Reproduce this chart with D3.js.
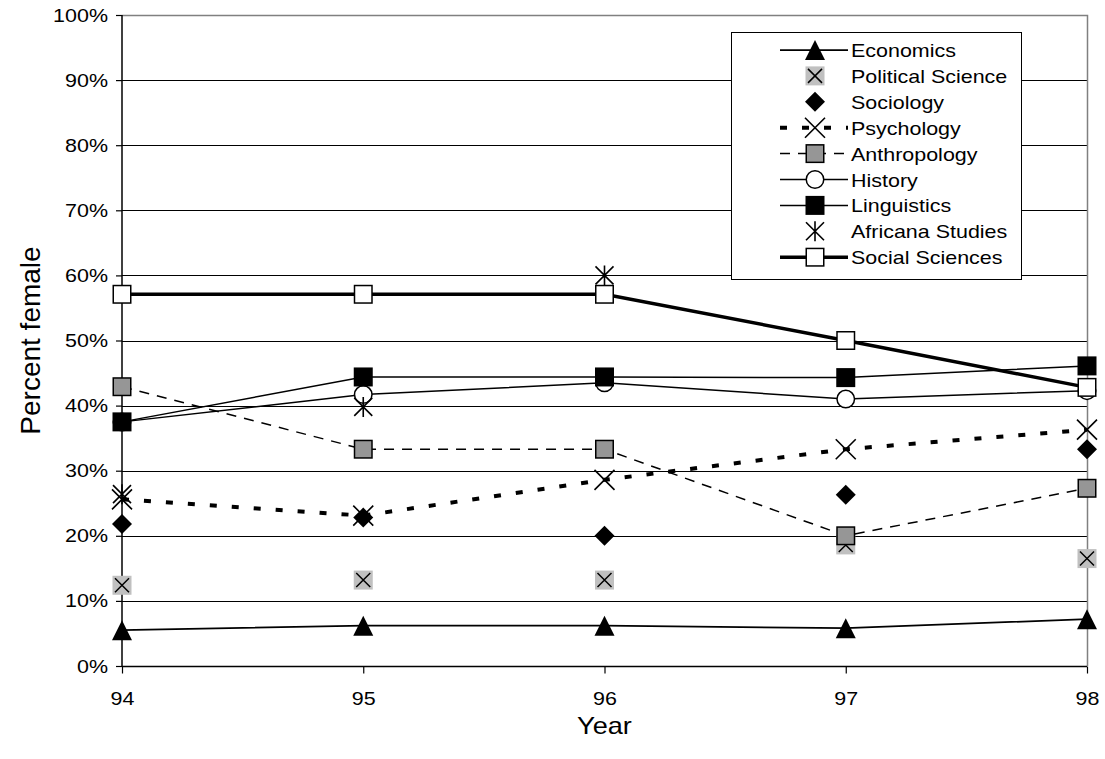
<!DOCTYPE html>
<html>
<head>
<meta charset="utf-8">
<script src="https://cdn.jsdelivr.net/npm/d3@7"></script>
<style>
  html, body { margin: 0; padding: 0; background: #fff; }
  svg { display: block; font-family: "Liberation Sans", Arial, sans-serif; }
</style>
</head>
<body>
<svg id="chart" width="1105" height="759"></svg>
<script>
// Share of female students by department, academic years 94–98 (percent)
const years = ["94", "95", "96", "97", "98"];
const yTicks = [0, 10, 20, 30, 40, 50, 60, 70, 80, 90, 100];

const economics        = [5.5, 6.2, 6.2, 5.8, 7.2];
const politicalScience = [12.4, 13.2, 13.2, 18.6, 16.5];
const sociology        = [21.8, 22.8, 20.0, 26.3, 33.3];
const psychology       = [25.6, 23.1, 28.6, 33.3, 36.3];
const anthropology     = [42.9, 33.3, 33.3, 20.0, 27.3];
const history          = [37.5, 41.7, 43.5, 41.0, 42.3];
const linguistics      = [37.5, 44.4, 44.4, 44.3, 46.1];
const africanaStudies  = [26.4, 39.8, 60.0, null, null];
const socialSciences   = [57.1, 57.1, 57.1, 50.0, 42.8];

const seriesNames = ["Economics", "Political Science", "Sociology", "Psychology",
  "Anthropology", "History", "Linguistics", "Africana Studies", "Social Sciences"];
const seriesValues = [economics, politicalScience, sociology, psychology,
  anthropology, history, linguistics, africanaStudies, socialSciences];

// drawing style per series: line (or none) and marker
const styles = [
  { line: true,  width: 1.75, dash: null,     marker: "triangle" },
  { line: false, marker: "boxX" },
  { line: false, marker: "diamond" },
  { line: true,  width: 4,    dash: "7,15",   marker: "x" },
  { line: true,  width: 1.5,  dash: "10,8",   marker: "graySquare" },
  { line: true,  width: 1.5,  dash: null,     marker: "circle" },
  { line: true,  width: 1.5,  dash: null,     marker: "blackSquare" },
  { line: false, marker: "asterisk" },
  { line: true,  width: 3.5,  dash: null,     marker: "whiteSquare" }
];

const W = 1105, H = 759;
const margin = { top: 15, right: 18, bottom: 93, left: 122 };
const STRETCH = 1.13;

const svg = d3.select("#chart");
const x = d3.scalePoint().domain(years).range([margin.left, W - margin.right]);
const y = d3.scaleLinear().domain([0, 100]).range([H - margin.bottom, margin.top]);

// horizontally widen a text element around its anchor point
function widen(sel) {
  sel.each(function () {
    const t = d3.select(this);
    const tx = +t.attr("x") || 0, ty = +t.attr("y") || 0;
    const prev = t.attr("transform") || "";
    t.attr("x", 0).attr("y", 0)
     .attr("transform", `${prev} translate(${tx},${ty}) scale(${STRETCH},1)`);
  });
}

// horizontal gridlines
svg.append("g")
  .selectAll("line")
  .data(yTicks.slice(1, -1))
  .join("line")
  .attr("x1", margin.left).attr("x2", W - margin.right)
  .attr("y1", d => Math.round(y(d)) + 0.5).attr("y2", d => Math.round(y(d)) + 0.5)
  .attr("stroke", "#000").attr("stroke-width", 1);

// plot frame: top and right in gray
svg.append("path")
  .attr("d", `M${margin.left},${Math.round(y(100)) + 0.5}H${W - margin.right + 0.5}V${Math.round(y(0))}`)
  .attr("fill", "none").attr("stroke", "#808080").attr("stroke-width", 1.5);

// axes
const yAxis = svg.append("g")
  .attr("transform", `translate(${margin.left},0)`)
  .call(d3.axisLeft(y).tickValues(yTicks).tickFormat(d => d + "%").tickSize(6).tickPadding(8));
const xAxis = svg.append("g")
  .attr("transform", `translate(0,${Math.round(y(0)) + 0.5})`)
  .call(d3.axisBottom(x).tickSize(7).tickPadding(18));

[yAxis, xAxis].forEach(g => {
  g.select(".domain").attr("stroke", "#000").attr("stroke-width", 1.5);
  g.selectAll(".tick line").attr("stroke", "#000").attr("stroke-width", 1.2);
  g.selectAll(".tick text").attr("fill", "#000")
    .style("font-family", "'Liberation Sans', Arial, sans-serif").style("font-size", "19px");
});
xAxis.select(".domain").attr("d", `M${margin.left},0H${W - margin.right}`);
yAxis.select(".domain").attr("d", `M0,${y(0)}V${y(100)}`);
widen(yAxis.selectAll(".tick text"));
widen(xAxis.selectAll(".tick text"));

// axis titles
svg.append("text")
  .attr("x", (margin.left + W - margin.right) / 2).attr("y", 734)
  .attr("text-anchor", "middle").style("font-size", "24px").text("Year")
  .call(widen);
svg.append("text")
  .attr("transform", `translate(40,${(y(0) + y(100)) / 2}) rotate(-90)`)
  .attr("text-anchor", "middle").style("font-size", "28px").text("Percent female");

// marker drawing
function drawMarker(g, type, cx, cy) {
  const s = 9.5;
  switch (type) {
    case "triangle":
      g.append("path").attr("d", `M${cx},${cy - 10}L${cx + 10},${cy + 10}L${cx - 10},${cy + 10}Z`).attr("fill", "#000");
      break;
    case "boxX":
      g.append("rect").attr("x", cx - s).attr("y", cy - s).attr("width", 2 * s).attr("height", 2 * s).attr("fill", "#c0c0c0");
      g.append("path").attr("d", `M${cx - 7},${cy - 7}L${cx + 7},${cy + 7}M${cx + 7},${cy - 7}L${cx - 7},${cy + 7}`)
        .attr("stroke", "#000").attr("stroke-width", 1.5);
      break;
    case "diamond":
      g.append("path").attr("d", `M${cx},${cy - 10}L${cx + 10},${cy}L${cx},${cy + 10}L${cx - 10},${cy}Z`).attr("fill", "#000");
      break;
    case "x":
      g.append("path").attr("d", `M${cx - 10},${cy - 10}L${cx + 10},${cy + 10}M${cx + 10},${cy - 10}L${cx - 10},${cy + 10}`)
        .attr("stroke", "#000").attr("stroke-width", 1.6).attr("fill", "none");
      break;
    case "graySquare":
      g.append("rect").attr("x", cx - s + 0.75).attr("y", cy - s + 0.75).attr("width", 2 * s - 1.5).attr("height", 2 * s - 1.5)
        .attr("fill", "#969696").attr("stroke", "#000").attr("stroke-width", 1.5);
      break;
    case "circle":
      g.append("circle").attr("cx", cx).attr("cy", cy).attr("r", s - 0.75)
        .attr("fill", "#fff").attr("stroke", "#000").attr("stroke-width", 1.5);
      break;
    case "blackSquare":
      g.append("rect").attr("x", cx - s).attr("y", cy - s).attr("width", 2 * s).attr("height", 2 * s).attr("fill", "#000");
      break;
    case "asterisk":
      g.append("path").attr("d", `M${cx - 9},${cy - 9}L${cx + 9},${cy + 9}M${cx + 9},${cy - 9}L${cx - 9},${cy + 9}M${cx},${cy - 10}V${cy + 10}`)
        .attr("stroke", "#000").attr("stroke-width", 1.6).attr("fill", "none");
      break;
    case "whiteSquare":
      g.append("rect").attr("x", cx - s + 0.75).attr("y", cy - s + 0.75).attr("width", 2 * s - 1.5).attr("height", 2 * s - 1.5)
        .attr("fill", "#fff").attr("stroke", "#000").attr("stroke-width", 1.5);
      break;
  }
}

// series: line then markers, in series order
const plot = svg.append("g");
seriesValues.forEach((vals, i) => {
  const st = styles[i];
  const pts = years.map((yr, j) => ({ yr, v: vals[j] })).filter(d => d.v != null);
  const g = plot.append("g");
  if (st.line) {
    g.append("path")
      .datum(pts)
      .attr("d", d3.line().x(d => x(d.yr)).y(d => y(d.v)))
      .attr("fill", "none").attr("stroke", "#000")
      .attr("stroke-width", st.width)
      .attr("stroke-dasharray", st.dash);
  }
  pts.forEach(d => drawMarker(g, st.marker, x(d.yr), y(d.v)));
});

// legend
const lg = svg.append("g");
const lx0 = 731, ly0 = 32, lx1 = 1021, ly1 = 279;
lg.append("rect").attr("x", lx0 + 0.5).attr("y", ly0 + 0.5)
  .attr("width", lx1 - lx0).attr("height", ly1 - ly0)
  .attr("fill", "#fff").attr("stroke", "#000").attr("stroke-width", 1);
seriesNames.forEach((name, i) => {
  const st = styles[i];
  const cy = 50 + i * 25.9;
  const row = lg.append("g");
  if (st.line) {
    row.append("line").attr("x1", 780).attr("x2", 848).attr("y1", cy).attr("y2", cy)
      .attr("stroke", "#000").attr("stroke-width", st.width)
      .attr("stroke-dasharray", st.dash);
  }
  drawMarker(row, st.marker, 815, cy);
  row.append("text").attr("x", 851).attr("y", cy + 7)
    .style("font-size", "19px").text(name).call(widen);
});
</script>
</body>
</html>
